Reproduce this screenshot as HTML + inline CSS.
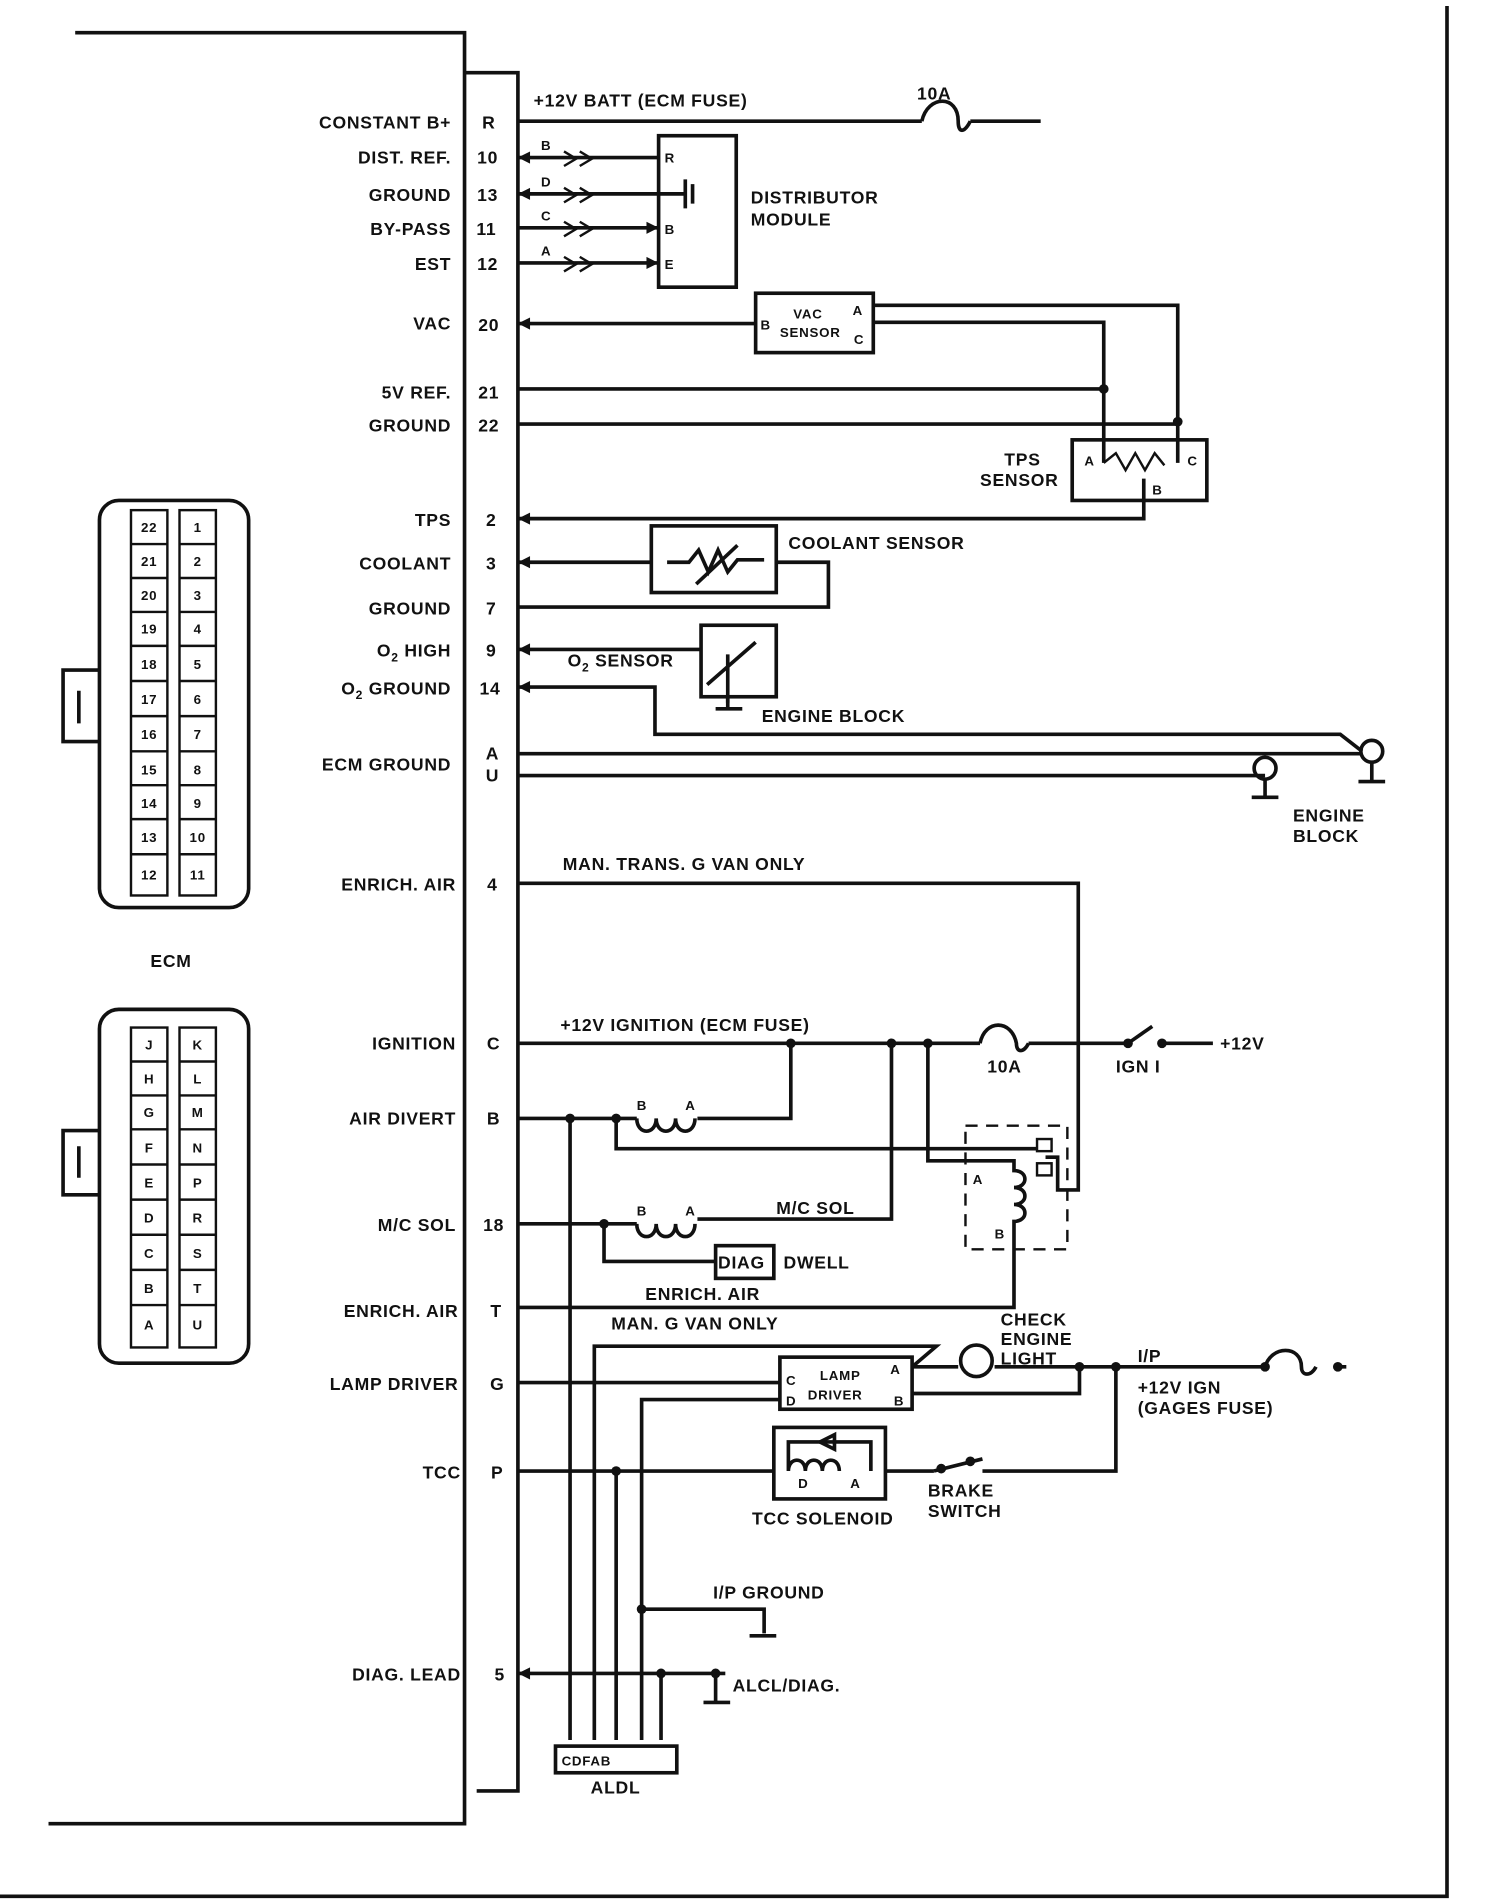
<!DOCTYPE html>
<html><head><meta charset="utf-8"><style>
html,body{margin:0;padding:0;background:#fff}
svg{display:block}
text{font-family:"Liberation Sans",sans-serif;font-weight:bold;font-size:14.5px;fill:#111;letter-spacing:0.6px}
.l{stroke:#111;stroke-width:3;fill:none}
.t{stroke:#111;stroke-width:2;fill:none}
.d{fill:#111}
.r{text-anchor:end}
.s{font-size:11px}
</style></head><body>
<svg width="1504" height="1900" viewBox="0 0 1240 1568" preserveAspectRatio="none">
<g class="l">
<path d="M1193 5V1565H0"/>
<path d="M62 27H383V1505H40"/>
<path d="M383 60H427V1478H393"/>
</g>
<g class="r">
<text x="372" y="106">CONSTANT B+</text>
<text x="372" y="135">DIST. REF.</text>
<text x="372" y="166">GROUND</text>
<text x="372" y="194">BY-PASS</text>
<text x="372" y="223">EST</text>
<text x="372" y="272">VAC</text>
<text x="372" y="329">5V REF.</text>
<text x="372" y="356">GROUND</text>
<text x="372" y="434">TPS</text>
<text x="372" y="470">COOLANT</text>
<text x="372" y="507">GROUND</text>
<text x="372" y="542">O<tspan font-size="10" dy="4">2</tspan><tspan dy="-4"> HIGH</tspan></text>
<text x="372" y="573">O<tspan font-size="10" dy="4">2</tspan><tspan dy="-4"> GROUND</tspan></text>
<text x="372" y="636">ECM GROUND</text>
<text x="376" y="735">ENRICH. AIR</text>
<text x="376" y="866">IGNITION</text>
<text x="376" y="928">AIR DIVERT</text>
<text x="376" y="1016">M/C SOL</text>
<text x="378" y="1087">ENRICH. AIR</text>
<text x="378" y="1147">LAMP DRIVER</text>
<text x="380" y="1220">TCC</text>
<text x="380" y="1387">DIAG. LEAD</text>
</g>
<g text-anchor="middle">
<text x="403" y="106">R</text><text x="402" y="135">10</text><text x="402" y="166">13</text>
<text x="401" y="194">11</text><text x="402" y="223">12</text><text x="403" y="273">20</text>
<text x="403" y="329">21</text><text x="403" y="356">22</text><text x="405" y="434">2</text>
<text x="405" y="470">3</text><text x="405" y="507">7</text><text x="405" y="542">9</text>
<text x="404" y="573">14</text><text x="406" y="627">A</text><text x="406" y="645">U</text>
<text x="406" y="735">4</text><text x="407" y="866">C</text><text x="407" y="928">B</text>
<text x="407" y="1016">18</text><text x="409" y="1087">T</text><text x="410" y="1147">G</text>
<text x="410" y="1220">P</text><text x="412" y="1387">5</text>
</g>
<g class="l">
<path d="M427 100H760M800 100H858"/>
<path d="M760 100c5-22 30-22 30 0c0 10 5 10 10 0"/>
<path d="M427 130H543M427 160H543M427 188H543M427 217H543"/>
<rect x="543" y="112" width="64" height="125"/>
<path d="M543 160H565M565 148V172M571 152V168"/>
<path d="M427 267H623"/>
<rect x="623" y="242" width="97" height="49"/>
<path d="M720 252H971V350M720 266H910V382"/>
<path d="M427 321H910M427 350H971"/>
<rect x="884" y="363" width="111" height="50"/>
<path d="M971 350V382"/>
<path d="M427 428H943V395"/>
<path d="M427 464H537M640 464H683V501H427"/>
<rect x="537" y="434" width="103" height="55"/>
<path d="M550 464h18l8-10 8 18 8-18 8 18 8-10h22"/>
<path d="M574 482l34-32"/>
<path d="M427 536H578M427 567H540V606H1105L1123 620"/>
<rect x="578" y="516" width="62" height="59"/>
<path d="M600 540v40M583 565l40-35"/>
<path d="M427 622H1123M427 640H1043"/>
<circle cx="1131" cy="620" r="9"/><circle cx="1043" cy="634" r="9"/>
<path d="M1131 629V645M1120 645h22M1043 643V658M1032 658h22M600 575v10M590 585h22"/>
<path d="M427 729H889V982H872V955H862"/>
<path d="M427 861H808M848 861H930M958 861H1000"/>
<path d="M808 861c4-20 26-20 30 0c0 8 6 8 10 0"/>
<path d="M930 861L950 847"/>
<path d="M652 861V923H575M427 923H525"/>
<path d="M525 923c0 14 16 14 16 0c0 14 16 14 16 0c0 14 16 14 16 0"/>
<path d="M508 923V948H855"/>
<path d="M765 861V958H836V966c12 0 12 14 0 14c12 0 12 14 0 14c12 0 12 14 0 14V1079H427"/>
<path d="M735 861V1006H575M427 1010H525"/>
<path d="M525 1010c0 14 16 14 16 0c0 14 16 14 16 0c0 14 16 14 16 0"/>
<path d="M498 1010V1041H590"/>
<rect x="590" y="1028" width="48" height="27"/>
<path d="M427 1141H643M752 1128H790M820 1128H1043M1103 1128H1110"/>
<path d="M1043 1128c5-18 30-18 30 0c0 8 8 8 12 0"/>
<rect x="643" y="1120" width="109" height="43"/>
<path d="M752 1150H890V1128"/>
<path d="M752 1128L772 1111H490V1436"/>
<circle cx="805" cy="1123" r="13"/>
<path d="M920 1128V1214H810"/>
<path d="M643 1155H529V1436"/>
<path d="M427 1214H638M730 1214H770"/>
<path d="M770 1214L810 1204"/>
<rect x="638" y="1178" width="92" height="59"/>
<path d="M650 1214V1190H718V1214M650 1214c0-12 14-12 14 0c0-12 14-12 14 0c0-12 14-12 14 0"/>
<path d="M676 1190l12-6v12z"/>
<path d="M508 1214V1436M470 923V1436M545 1381V1436"/>
<path d="M529 1328H630V1348M618 1350h22"/>
<path d="M427 1381H598M590 1381V1405M580 1405h22"/>
<rect x="458" y="1441" width="100" height="22"/>
</g>
<g class="t">
<path d="M465 125l10 6-10 6M478 125l10 6-10 6M465 155l10 6-10 6M478 155l10 6-10 6M465 183l10 6-10 6M478 183l10 6-10 6M465 212l10 6-10 6M478 212l10 6-10 6"/>
<path d="M910 382l10-8 8 14 8-14 8 14 8-14 8 10" />
<path d="M796 929h84v102h-84z" stroke-dasharray="10 7"/>
<rect x="855" y="940" width="12" height="10"/><rect x="855" y="960" width="12" height="10"/>
</g>
<g class="d">
<path d="M427 130l10-5v10zM427 160l10-5v10zM543 188l-10-5v10zM543 217l-10-5v10zM427 267l10-5v10zM427 428l10-5v10zM427 464l10-5v10zM427 536l10-5v10zM427 567l10-5v10zM427 1381l10-5v10z"/>
<circle cx="910" cy="321" r="4"/><circle cx="971" cy="348" r="4"/>
<circle cx="652" cy="861" r="4"/><circle cx="735" cy="861" r="4"/><circle cx="765" cy="861" r="4"/>
<circle cx="930" cy="861" r="4"/><circle cx="958" cy="861" r="4"/>
<circle cx="470" cy="923" r="4"/><circle cx="508" cy="923" r="4"/><circle cx="498" cy="1010" r="4"/>
<circle cx="890" cy="1128" r="4"/><circle cx="920" cy="1128" r="4"/><circle cx="1043" cy="1128" r="4"/><circle cx="1103" cy="1128" r="4"/>
<circle cx="508" cy="1214" r="4"/><circle cx="529" cy="1328" r="4"/><circle cx="545" cy="1381" r="4"/><circle cx="590" cy="1381" r="4"/>
<circle cx="776" cy="1212" r="4"/><circle cx="800" cy="1206" r="4"/>
</g>
<text x="440" y="88">+12V BATT (ECM FUSE)</text>
<text x="756" y="82">10A</text>
<text x="446" y="124" class="s">B</text><text x="446" y="154" class="s">D</text><text x="446" y="182" class="s">C</text><text x="446" y="211" class="s">A</text>
<text x="548" y="134" class="s">R</text><text x="548" y="193" class="s">B</text><text x="548" y="222" class="s">E</text>
<text x="619" y="168">DISTRIBUTOR</text><text x="619" y="186">MODULE</text>
<text x="627" y="272" class="s">B</text><text x="654" y="263" class="s">VAC</text><text x="643" y="278" class="s">SENSOR</text>
<text x="703" y="260" class="s">A</text><text x="704" y="284" class="s">C</text>
<text x="828" y="384">TPS</text><text x="808" y="401">SENSOR</text>
<text x="894" y="384" class="s">A</text><text x="979" y="384" class="s">C</text><text x="950" y="408" class="s">B</text>
<text x="650" y="453">COOLANT SENSOR</text>
<text x="468" y="550">O<tspan font-size="10" dy="4">2</tspan><tspan dy="-4"> SENSOR</tspan></text>
<text x="628" y="596">ENGINE BLOCK</text>
<text x="1066" y="678">ENGINE</text><text x="1066" y="695">BLOCK</text>
<text x="464" y="718">MAN. TRANS. G VAN ONLY</text>
<text x="462" y="851">+12V IGNITION (ECM FUSE)</text>
<text x="814" y="885">10A</text><text x="920" y="885">IGN I</text><text x="1006" y="866">+12V</text>
<text x="525" y="916" class="s">B</text><text x="565" y="916" class="s">A</text>
<text x="525" y="1003" class="s">B</text><text x="565" y="1003" class="s">A</text>
<text x="640" y="1002">M/C SOL</text>
<text x="802" y="977" class="s">A</text><text x="820" y="1022" class="s">B</text>
<text x="592" y="1047">DIAG</text><text x="646" y="1047">DWELL</text>
<text x="532" y="1073">ENRICH. AIR</text><text x="504" y="1097">MAN. G VAN ONLY</text>
<text x="825" y="1094">CHECK</text><text x="825" y="1110">ENGINE</text><text x="825" y="1126">LIGHT</text>
<text x="938" y="1124">I/P</text><text x="938" y="1150">+12V IGN</text><text x="938" y="1167">(GAGES FUSE)</text>
<text x="648" y="1143" class="s">C</text><text x="648" y="1160" class="s">D</text>
<text x="676" y="1139" class="s">LAMP</text><text x="666" y="1155" class="s">DRIVER</text>
<text x="734" y="1134" class="s">A</text><text x="737" y="1160" class="s">B</text>
<text x="658" y="1228" class="s">D</text><text x="701" y="1228" class="s">A</text>
<text x="620" y="1258">TCC SOLENOID</text>
<text x="765" y="1235">BRAKE</text><text x="765" y="1252">SWITCH</text>
<text x="588" y="1319">I/P GROUND</text>
<text x="604" y="1396">ALCL/DIAG.</text>
<text x="463" y="1457" class="s" letter-spacing="3">CDFAB</text>
<text x="487" y="1480">ALDL</text>
<text x="124" y="798" font-size="19">ECM</text>
<g class="l">
<rect x="82" y="413" width="123" height="336" rx="16"/>
<rect x="82" y="833" width="123" height="292" rx="16"/>
<path d="M82 553H52V612H82M65 570V597M82 933H52V986H82M65 946V972"/>
</g>
<g class="t">
<rect x="108" y="421" width="30" height="318"/><rect x="148" y="421" width="30" height="318"/>
<rect x="108" y="848" width="30" height="264"/><rect x="148" y="848" width="30" height="264"/>
<path d="M108 449h30M108 477h30M108 505h30M108 533h30M108 562h30M108 591h30M108 620h30M108 648h30M108 676h30M108 705h30"/>
<path d="M148 449h30M148 477h30M148 505h30M148 533h30M148 562h30M148 591h30M148 620h30M148 648h30M148 676h30M148 705h30"/>
<path d="M108 876h30M108 904h30M108 932h30M108 961h30M108 990h30M108 1019h30M108 1048h30M108 1077h30"/>
<path d="M148 876h30M148 904h30M148 932h30M148 961h30M148 990h30M148 1019h30M148 1048h30M148 1077h30"/>
</g>
<g text-anchor="middle">
<text x="123" y="439" class="s">22</text><text x="163" y="439" class="s">1</text>
<text x="123" y="467" class="s">21</text><text x="163" y="467" class="s">2</text>
<text x="123" y="495" class="s">20</text><text x="163" y="495" class="s">3</text>
<text x="123" y="523" class="s">19</text><text x="163" y="523" class="s">4</text>
<text x="123" y="552" class="s">18</text><text x="163" y="552" class="s">5</text>
<text x="123" y="581" class="s">17</text><text x="163" y="581" class="s">6</text>
<text x="123" y="610" class="s">16</text><text x="163" y="610" class="s">7</text>
<text x="123" y="639" class="s">15</text><text x="163" y="639" class="s">8</text>
<text x="123" y="667" class="s">14</text><text x="163" y="667" class="s">9</text>
<text x="123" y="695" class="s">13</text><text x="163" y="695" class="s">10</text>
<text x="123" y="726" class="s">12</text><text x="163" y="726" class="s">11</text>
<text x="123" y="866" class="s">J</text><text x="163" y="866" class="s">K</text>
<text x="123" y="894" class="s">H</text><text x="163" y="894" class="s">L</text>
<text x="123" y="922" class="s">G</text><text x="163" y="922" class="s">M</text>
<text x="123" y="951" class="s">F</text><text x="163" y="951" class="s">N</text>
<text x="123" y="980" class="s">E</text><text x="163" y="980" class="s">P</text>
<text x="123" y="1009" class="s">D</text><text x="163" y="1009" class="s">R</text>
<text x="123" y="1038" class="s">C</text><text x="163" y="1038" class="s">S</text>
<text x="123" y="1067" class="s">B</text><text x="163" y="1067" class="s">T</text>
<text x="123" y="1097" class="s">A</text><text x="163" y="1097" class="s">U</text>
</g>
</svg>
</body></html>
